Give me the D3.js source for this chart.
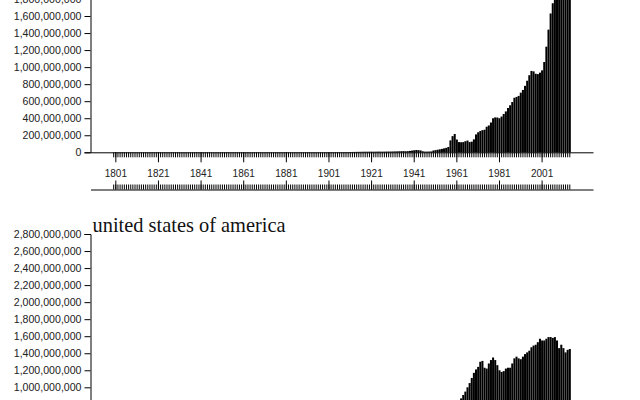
<!DOCTYPE html>
<html><head><meta charset="utf-8">
<script src="https://cdn.jsdelivr.net/npm/d3@7"></script>
<style>
html,body{margin:0;padding:0;background:#fff;overflow:hidden;}
svg{display:block}
</style></head><body>
<script>
// categories
const years = d3.range(1800, 2015);
const labelYears = [1801,1821,1841,1861,1881,1901,1921,1941,1961,1981,2001];
const yTickValues = [0,200000000,400000000,600000000,800000000,1000000000,1200000000,1400000000,1600000000,1800000000,2000000000,2200000000,2400000000,2600000000,2800000000];
const countries = ["china", "united states of america"];

// series values (million tonnes), one per year starting at the given year
const chinaStart = 1899;
const chinaValues = [
  0.1,
  0.1,0.2,0.3,0.5,0.7,1.0,1.2,1.5,2.0,2.5,
  3.0,3.5,4.0,4.5,5.0,5.5,6.0,6.5,7.0,7.0,
  7.5,7.5,7.0,7.5,8.0,8.0,7.5,8.0,8.5,9.0,
  9.0,9.5,10,11,12,13,14,12,13,16,
  20,24,27,25,22,12,8,8,9,10,
  21,25,30,35,40,46,52,62,140,190,
  215,150,120,118,120,130,138,120,125,152,
  210,235,250,260,265,300,315,350,400,410,
  408,400,420,450,480,520,552,590,640,650,
  662,700,732,780,840,905,955,950,922,918,
  935,962,1060,1240,1440,1630,1750,1860,1960,2100,
  2260,2450,2630,2795,2806
];
const usaStart = 1800;
const usaValues = [
  0.25,0.27,0.27,0.27,0.34,0.34,0.36,0.38,0.50,0.50,
  0.55,0.6,0.6,0.65,0.7,0.8,0.9,0.9,1.0,1.1,
  1.2,1.3,1.4,1.5,1.6,1.7,1.9,2.0,2.2,2.4,
  2.6,2.8,3.0,3.3,3.6,4.0,4.4,4.8,5.0,5.4,
  5.5,5.8,6.2,6.6,7.2,8,9,10,11,12,
  14,15,16,18,20,21,22,23,24,25,
  25,24,26,28,30,32,34,37,40,42,
  45,48,55,60,58,60,62,64,66,75,
  85,95,105,110,115,115,120,130,145,150,
  165,175,180,190,175,190,190,200,210,235,
  250,270,275,320,320,350,370,420,370,400,
  430,420,440,480,440,440,480,530,550,470,
  520,420,440,520,480,500,520,500,500,520,
  460,400,340,360,380,400,440,460,390,420,
  460,490,520,560,590,580,560,600,620,560,
  694,720,700,715,690,755,790,785,760,790,
  800,800,830,870,910,950,1000,1050,1110,1170,
  1210,1240,1300,1310,1230,1220,1280,1320,1350,1320,
  1260,1200,1180,1190,1220,1230,1230,1280,1340,1360,
  1340,1330,1360,1390,1410,1430,1470,1490,1500,1530,
  1570,1550,1550,1570,1590,1590,1580,1590,1550,1460,
  1500,1460,1410,1440,1450
];
const seriesStarts = [chinaStart, usaStart];
const seriesValues = [chinaValues, usaValues];

const W = 640, H = 400;
const left = 90.5, right = 593, plotH = 238.5, firstTop = -86.2, blockH = 320.2;

const svg = d3.select("body").append("svg").attr("width", W).attr("height", H);

const x = d3.scaleBand().domain(years).range([left, right])
  .paddingInner(0.05).paddingOuter(10.405).align(0.5);
const y = d3.scaleLinear().domain([0, 2800000000]).range([plotH, 0]);

countries.forEach((name, i) => {
  const g = svg.append("g").attr("transform", `translate(0,${firstTop + i * blockH})`);
  const data = seriesValues[i].map((v, k) => ({ year: seriesStarts[i] + k, value: v * 1e6 }));

  g.append("g").selectAll("rect").data(data).join("rect")
    .attr("x", d => x(d.year))
    .attr("width", x.bandwidth())
    .attr("y", d => y(d.value))
    .attr("height", d => plotH - y(d.value))
    .attr("fill", "#000");

  // y axis
  const ya = g.append("g").attr("transform", `translate(${left},0)`)
    .call(d3.axisLeft(y).tickValues(yTickValues).tickFormat(d3.format(",")).tickSize(6).tickPadding(3));
  ya.attr("font-family", "'Liberation Sans', Arial, sans-serif").attr("font-size", 10.6);
  ya.selectAll("text").attr("fill", "#222");

  // upper x axis: every year minor ticks
  g.append("g").attr("transform", `translate(0,${plotH})`)
    .call(d3.axisBottom(x).tickValues(years).tickSize(5).tickFormat("").tickSizeOuter(0));
  const xm = g.append("g").attr("transform", `translate(0,${plotH})`)
    .call(d3.axisBottom(x).tickValues(labelYears).tickSize(10).tickPadding(8).tickSizeOuter(0));
  xm.select(".domain").remove();
  xm.attr("font-family", "'Liberation Sans', Arial, sans-serif").attr("font-size", 10);
  xm.selectAll("text").attr("fill", "#222");

  // lower x axis
  g.append("g").attr("transform", `translate(0,${plotH + 37.2})`)
    .call(d3.axisTop(x).tickValues(years).tickSize(5).tickFormat("").tickSizeOuter(0));
  const xl = g.append("g").attr("transform", `translate(0,${plotH + 37.2})`)
    .call(d3.axisTop(x).tickValues(labelYears).tickSize(9).tickFormat("").tickSizeOuter(0));
  xl.select(".domain").remove();

  // title
  g.append("text").attr("x", left + 2).attr("y", -2)
    .attr("font-family", "'Liberation Serif', 'Times New Roman', serif")
    .attr("font-size", 20.4).attr("fill", "#111")
    .text(name);
});
</script>
</body></html>
